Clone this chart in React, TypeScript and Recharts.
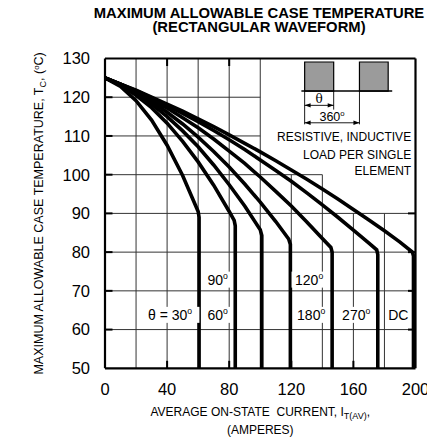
import React from 'react';
import { LineChart, Line, XAxis, YAxis, ReferenceLine, ReferenceArea, ReferenceDot, Label } from 'recharts';

const FONT = '"Liberation Sans", Arial, Helvetica, sans-serif';

// axis ticks
const xTicks = [0, 40, 80, 120, 160, 200];
const yTicks = [50, 60, 70, 80, 90, 100, 110, 120, 130];

// curves: [average on-state current (A), max case temperature (°C)]
const theta30 = [[0,125],[10,122.8],[20,119.1],[30,114.1],[40,107.6],[50,99.8],[60,90.5],[60.6,89],[60.6,50]];
const theta60 = [[0,125],[10,123.1],[20,120.5],[30,117.3],[40,113.3],[50,108.6],[60,103.3],[70,97.3],[80,90.5],[83.2,88.2],[83.9,86.8],[83.9,50]];
const theta90 = [[0,125],[10,123.2],[20,121],[30,118.2],[40,115],[50,111.3],[60,107.2],[70,102.5],[80,97.4],[90,91.9],[100,85.8],[101,84.3],[101,50]];
const theta120 = [[0,125],[10,123.3],[20,121.2],[30,118.9],[40,116.1],[50,113.1],[60,109.7],[70,106],[80,102],[90,97.6],[100,92.9],[110,87.9],[118.3,83.4],[119.4,82],[119.4,50]];
const theta180 = [[0,125],[10,123.4],[20,121.5],[30,119.4],[40,117.2],[50,114.7],[60,112.1],[70,109.2],[80,106.1],[90,102.9],[100,99.4],[110,95.7],[120,91.9],[130,87.8],[140,83.5],[145.5,81.2],[146.3,80],[146.3,50]];
const theta270 = [[0,125],[10,123.4],[20,121.7],[30,119.8],[40,117.9],[50,115.8],[60,113.7],[70,111.4],[80,109],[90,106.5],[100,103.8],[110,101.1],[120,98.3],[130,95.3],[140,92.2],[150,89],[160,85.7],[170,82.3],[175,80.6],[175.7,79.4],[175.7,50]];
const thetaDC = [[0,125],[10,123.4],[20,121.8],[30,120],[40,118.2],[50,116.4],[60,114.4],[70,112.4],[80,110.3],[90,108.1],[100,105.9],[110,103.6],[120,101.2],[130,98.8],[140,96.3],[150,93.7],[160,91],[170,88.3],[180,85.5],[190,82.6],[198,80],[198.7,79],[198.7,50]];

const curves = [theta30, theta60, theta90, theta120, theta180, theta270, thetaDC];

// grid segments in data units: vertical [x, yFrom, yTo], horizontal [y, xFrom, xTo]
const vGrid = [[20,50,130],[40,50,130],[60,50,130],[80,50,130],[100,50,130],[120,50,100],[140,50,100],[160,50,90],[180,50,90]];
const hGrid = [[120,0,100],[110,0,100],[100,0,140],[90,0,200],[80,0,200],[70,0,200],[60,0,200]];

// inward tick marks
const leftTicks = [60, 70, 80, 90, 100, 110, 120];
const rightTicks = [60, 70, 80, 90];
const topTicks = [40, 80];
const bottomTicks = [40, 80, 120, 160];

// curve labels: [text, current, temp]
const curveLabels: [string, number, number][] = [
  ['\u03b8 = 30', 41.9, 63.8],
  ['60', 72.6, 63.8],
  ['90', 72.6, 72.9],
  ['120', 131.5, 72.9],
  ['180', 132.8, 63.8],
  ['270', 161.8, 63.8],
];
const dcLabel: [string, number, number] = ['DC', 188.9, 63.8];

// inset waveform (data units)
const pulses = [[128.6, 147.3], [163.9, 182.4]];
const pulseTop = 129.1;
const pulseBase = 121.6;
const insetBase = [126.5, 185];
const dimLines = [[128.6, 121.6, 113], [147.3, 121.6, 116.8], [163.9, 121.6, 113]];
const thetaArrow = [128.6, 147.3, 117.9];
const periodArrow = [128.6, 163.9, 113.4];
const insetNotes = ['RESISTIVE, INDUCTIVE', 'LOAD PER SINGLE', 'ELEMENT'];
const insetNoteY = [109.7, 105.1, 100.9];
const insetNoteX = 197.2;

const toPts = (arr: number[][]) => arr.map(([i, t]) => ({ i, t }));

const Deg = ({ size }: { size: number }) => (
  <tspan fontSize={size * 0.62} dy={-size * 0.42}>o</tspan>
);

const BoxLabel = (props: any) => {
  const { cx, cy, text, deg = true, size = 14 } = props;
  const w = text.length * size * 0.56 + (deg ? size * 0.55 : 0) + 4;
  const h = size + 2;
  return (
    <g>
      <rect x={cx - w / 2} y={cy - h / 2} width={w} height={h} fill="#fff" />
      <text x={cx} y={cy + size * 0.36} textAnchor="middle" fontSize={size} fontFamily={FONT} fill="#000">
        {text}
        {deg ? <Deg size={size} /> : null}
      </text>
    </g>
  );
};

const ArrowLine = (props: any) => {
  const { x1, y1, x2, y2 } = props;
  const y = y1;
  const a = 6;
  const b = 2.2;
  return (
    <g>
      <line x1={x1} y1={y} x2={x2} y2={y2} stroke="#000" strokeWidth={0.9} />
      <path d={`M${x1},${y} L${x1 + a},${y - b} L${x1 + a},${y + b} Z`} fill="#000" />
      <path d={`M${x2},${y} L${x2 - a},${y - b} L${x2 - a},${y + b} Z`} fill="#000" />
    </g>
  );
};

const TickMark = (props: any) => {
  const { cx, cy, dir } = props;
  const L = 7.5;
  let x2 = cx, y2 = cy;
  if (dir === 'r') x2 = cx + L;
  if (dir === 'l') x2 = cx - L;
  if (dir === 'd') y2 = cy + L;
  if (dir === 'u') y2 = cy - L;
  return <line x1={cx} y1={cy} x2={x2} y2={y2} stroke="#000" strokeWidth={2} />;
};

const XLabel = (props: any) => {
  const vb = props.viewBox || { x: 105, y: 368, width: 310, height: 69 };
  const cx = vb.x + vb.width / 2;
  return (
    <g fontFamily={FONT} fill="#000">
      <text x={cx} y={vb.y + 47.5} textAnchor="middle" fontSize={12} style={{ whiteSpace: 'pre' }}>
        {'AVERAGE ON-STATE  CURRENT, I'}
        <tspan fontSize={9} dy={3}>T(AV)</tspan>
        <tspan dy={-3}>,</tspan>
      </text>
      <text x={cx} y={vb.y + 66} textAnchor="middle" fontSize={12}>(AMPERES)</text>
    </g>
  );
};

const YLabel = (props: any) => {
  const vb = props.viewBox || { x: 0, y: 58.5, width: 105, height: 310 };
  const x = vb.x + 43.5;
  const y = vb.y + vb.height / 2;
  return (
    <text
      x={x}
      y={y}
      transform={`rotate(-90 ${x} ${y})`}
      textAnchor="middle"
      fontSize={12.5}
      fontFamily={FONT}
      fill="#000"
    >
      MAXIMUM ALLOWABLE CASE TEMPERATURE, T
      <tspan fontSize={9} dy={3}>C</tspan>
      <tspan dy={-3}>, (</tspan>
      <tspan fontSize={8} dy={-4.5}>o</tspan>
      <tspan dy={4.5}>C)</tspan>
    </text>
  );
};

export default function App() {
  const grid = '#333';
  return (
    <div style={{ position: 'absolute', left: 0, top: 0, width: 427, height: 437, background: '#fff' }}>
      <div
        style={{
          position: 'absolute',
          left: 0,
          top: 6.4,
          width: 518,
          textAlign: 'center',
          fontFamily: FONT,
          fontWeight: 'bold',
          fontSize: 14.8,
          lineHeight: '14px',
          color: '#000',
          whiteSpace: 'nowrap',
        }}
      >
        MAXIMUM ALLOWABLE CASE TEMPERATURE
        <br />
        (RECTANGULAR WAVEFORM)
      </div>
      <div style={{ position: 'absolute', left: 0, top: 0 }}>
        <LineChart width={427} height={437} margin={{ top: 58.5, right: 11.5, bottom: 0, left: 0 }}>
          <XAxis
            dataKey="i"
            type="number"
            domain={[0, 200]}
            ticks={xTicks}
            interval={0}
            axisLine={false}
            tickLine={false}
            tickSize={6}
            tickMargin={9}
            height={68.7}
            tick={{ fill: '#000', fontSize: 16.5, fontFamily: FONT }}
            allowDataOverflow
          >
            <Label content={<XLabel />} />
          </XAxis>
          <YAxis
            dataKey="t"
            type="number"
            domain={[50, 130]}
            ticks={yTicks}
            interval={0}
            axisLine={false}
            tickLine={false}
            tickSize={6}
            tickMargin={9}
            width={105}
            tick={{ fill: '#000', fontSize: 16.5, fontFamily: FONT }}
            allowDataOverflow
          >
            <Label content={<YLabel />} />
          </YAxis>

          {vGrid.map(([x, y1, y2]) => (
            <ReferenceLine key={'v' + x} segment={[{ x, y: y1 }, { x, y: y2 }]} stroke={grid} strokeWidth={1} />
          ))}
          {hGrid.map(([y, x1, x2]) => (
            <ReferenceLine key={'h' + y} segment={[{ x: x1, y }, { x: x2, y }]} stroke={grid} strokeWidth={1} />
          ))}

          {leftTicks.map((y) => (
            <ReferenceDot key={'lt' + y} x={0} y={y} r={0} shape={(p: any) => <TickMark cx={p.cx} cy={p.cy} dir="r" />} />
          ))}
          {rightTicks.map((y) => (
            <ReferenceDot key={'rt' + y} x={200} y={y} r={0} shape={(p: any) => <TickMark cx={p.cx} cy={p.cy} dir="l" />} />
          ))}
          {topTicks.map((x) => (
            <ReferenceDot key={'tt' + x} x={x} y={130} r={0} shape={(p: any) => <TickMark cx={p.cx} cy={p.cy} dir="d" />} />
          ))}
          {bottomTicks.map((x) => (
            <ReferenceDot key={'bt' + x} x={x} y={50} r={0} shape={(p: any) => <TickMark cx={p.cx} cy={p.cy} dir="u" />} />
          ))}

          {/* inset waveform */}
          {pulses.map(([a, b]) => (
            <ReferenceArea
              key={'p' + a}
              x1={a}
              x2={b}
              y1={pulseBase}
              y2={pulseTop}
              fill="#9b9b9b"
              fillOpacity={1}
              stroke="#000"
              strokeWidth={1.2}
            />
          ))}
          <ReferenceLine segment={[{ x: insetBase[0], y: pulseBase }, { x: insetBase[1], y: pulseBase }]} stroke="#000" strokeWidth={1.5} />
          {dimLines.map(([x, y1, y2]) => (
            <ReferenceLine key={'d' + x} segment={[{ x, y: y1 }, { x, y: y2 }]} stroke="#000" strokeWidth={0.9} />
          ))}
          <ReferenceLine
            segment={[{ x: thetaArrow[0], y: thetaArrow[2] }, { x: thetaArrow[1], y: thetaArrow[2] }]}
            shape={(p: any) => <ArrowLine {...p} />}
          />
          <ReferenceLine
            segment={[{ x: periodArrow[0], y: periodArrow[2] }, { x: periodArrow[1], y: periodArrow[2] }]}
            shape={(p: any) => <ArrowLine {...p} />}
          />
          <ReferenceDot
            x={(thetaArrow[0] + thetaArrow[1]) / 2}
            y={thetaArrow[2] + 1.6}
            r={0}
            shape={(p: any) => (
              <text x={p.cx} y={p.cy + 4} textAnchor="middle" fontSize={12} fontFamily='"DejaVu Serif", serif' fill="#000">
                {'\u03b8'}
              </text>
            )}
          />
          <ReferenceDot
            x={(periodArrow[0] + periodArrow[1]) / 2}
            y={periodArrow[2] + 1.5}
            r={0}
            shape={(p: any) => (
              <text x={p.cx} y={p.cy + 4.5} textAnchor="middle" fontSize={12.5} fontFamily={FONT} fill="#000">
                360
                <Deg size={12.5} />
              </text>
            )}
          />
          {insetNotes.map((s, k) => (
            <ReferenceDot
              key={'n' + k}
              x={insetNoteX}
              y={insetNoteY[k]}
              r={0}
              shape={(p: any) => (
                <text x={p.cx} y={p.cy + 4.3} textAnchor="end" fontSize={12} fontFamily={FONT} fill="#000">
                  {s}
                </text>
              )}
            />
          ))}

          {curves.map((c, k) => (
            <Line
              key={'c' + k}
              data={toPts(c)}
              dataKey="t"
              type="linear"
              stroke="#000"
              strokeWidth={3.6}
              dot={false}
              activeDot={false}
              isAnimationActive={false}
              legendType="none"
            />
          ))}

          {curveLabels.map(([s, x, y]) => (
            <ReferenceDot key={'cl' + s} x={x} y={y} r={0} shape={(p: any) => <BoxLabel cx={p.cx} cy={p.cy} text={s} />} />
          ))}
          <ReferenceDot x={dcLabel[1]} y={dcLabel[2]} r={0} shape={(p: any) => <BoxLabel cx={p.cx} cy={p.cy} text={dcLabel[0]} deg={false} />} />

          {/* frame */}
          <ReferenceLine x={0} stroke="#000" strokeWidth={2.2} />
          <ReferenceLine x={200} stroke="#000" strokeWidth={2.2} />
          <ReferenceLine y={50} stroke="#000" strokeWidth={2.2} />
          <ReferenceLine y={130} stroke="#000" strokeWidth={2.2} />
        </LineChart>
      </div>
    </div>
  );
}
